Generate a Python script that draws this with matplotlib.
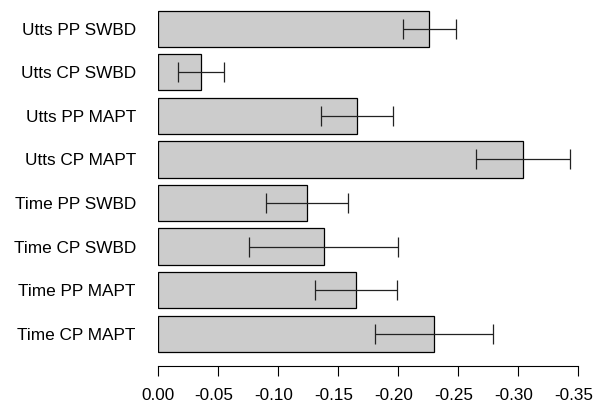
import matplotlib
matplotlib.use("Agg")
import matplotlib.pyplot as plt
from matplotlib.transforms import ScaledTranslation

plt.rcParams['font.family'] = ['Liberation Sans', 'DejaVu Sans']

labels = ["Utts PP SWBD", "Utts CP SWBD", "Utts PP MAPT", "Utts CP MAPT",
          "Time PP SWBD", "Time CP SWBD", "Time PP MAPT", "Time CP MAPT"]
values = [-0.226, -0.036, -0.166, -0.304, -0.124, -0.138, -0.165, -0.230]
errors = [0.022, 0.019, 0.030, 0.039, 0.034, 0.062, 0.034, 0.049]
xticks = [0.00, -0.05, -0.10, -0.15, -0.20, -0.25, -0.30, -0.35]

W, H = 595, 408
fig = plt.figure(figsize=(W / 100, H / 100), dpi=100)
left_px, right_px = 158, 590
top_px, bot_px = 5, 366
ax = fig.add_axes([left_px / W, 1 - bot_px / H, (right_px - left_px) / W, (bot_px - top_px) / H])

pos = list(range(len(labels)))
ax.barh(pos, values, height=0.833, color="#cccccc", edgecolor="black", linewidth=0.9)
ax.errorbar(values, pos, xerr=errors, fmt="none", ecolor="#222222", elinewidth=0.9,
            capsize=7.5, capthick=0.9)

ax.set_xlim(0, -(right_px - left_px) / 1200)
ax.set_ylim(7.741, -0.546)
ax.set_yticks(pos)
ax.set_yticklabels(labels, fontsize=12.4)
ax.tick_params(axis="y", length=0, pad=16)
ax.set_xticks(xticks)
ax.set_xticklabels([f"{t:.2f}" if t == 0 else f"-{abs(t):.2f}" for t in xticks], fontsize=12.3)
ax.tick_params(axis="x", length=7.5, width=0.8, pad=8)

shift = ScaledTranslation(-4 / 100, 0, fig.dpi_scale_trans)
for lbl, t in zip(ax.get_xticklabels(), xticks):
    if t != 0:
        lbl.set_transform(lbl.get_transform() + shift)

for s in ["top", "right", "left"]:
    ax.spines[s].set_visible(False)
ax.spines["bottom"].set_bounds(0, -0.35)
ax.spines["bottom"].set_linewidth(0.8)

fig.savefig("out.png", dpi=100)
